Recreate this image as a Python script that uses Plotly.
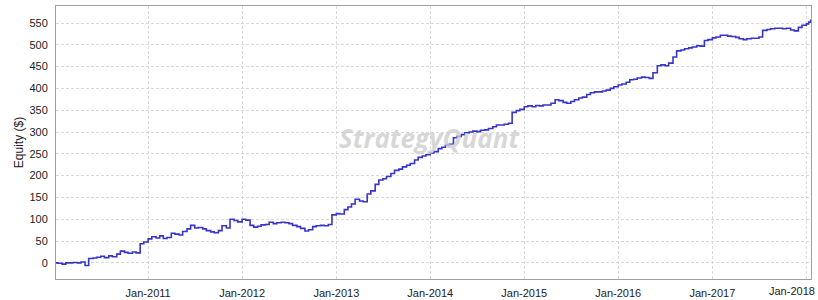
import plotly.graph_objects as go

dates = [
    "2010-01-08", "2010-01-15", "2010-02-01", "2010-02-15", "2010-03-01", "2010-03-15", "2010-04-01", "2010-04-15",
    "2010-05-01", "2010-05-15", "2010-06-01", "2010-06-15", "2010-07-01", "2010-07-15", "2010-08-01", "2010-08-15",
    "2010-09-01", "2010-09-15", "2010-10-01", "2010-10-15", "2010-11-01", "2010-11-15", "2010-12-01", "2010-12-15",
    "2011-01-01", "2011-01-15", "2011-02-01", "2011-02-15", "2011-03-01", "2011-03-15", "2011-04-01", "2011-04-15",
    "2011-05-01", "2011-05-15", "2011-06-01", "2011-06-15", "2011-07-01", "2011-07-15", "2011-08-01", "2011-08-15",
    "2011-09-01", "2011-09-15", "2011-10-01", "2011-10-15", "2011-11-01", "2011-11-15", "2011-12-01", "2011-12-15",
    "2012-01-01", "2012-01-15", "2012-02-01", "2012-02-15", "2012-03-01", "2012-03-15", "2012-04-01", "2012-04-15",
    "2012-05-01", "2012-05-15", "2012-06-01", "2012-06-15", "2012-07-01", "2012-07-15", "2012-08-01", "2012-08-15",
    "2012-09-01", "2012-09-15", "2012-10-01", "2012-10-15", "2012-11-01", "2012-11-15", "2012-12-01", "2012-12-15",
    "2013-01-01", "2013-01-15", "2013-02-01", "2013-02-15", "2013-03-01", "2013-03-15", "2013-04-01", "2013-04-15",
    "2013-05-01", "2013-05-15", "2013-06-01", "2013-06-15", "2013-07-01", "2013-07-15", "2013-08-01", "2013-08-15",
    "2013-09-01", "2013-09-15", "2013-10-01", "2013-10-15", "2013-11-01", "2013-11-15", "2013-12-01", "2013-12-15",
    "2014-01-01", "2014-01-15", "2014-02-01", "2014-02-15", "2014-03-01", "2014-03-15", "2014-04-01", "2014-04-15",
    "2014-05-01", "2014-05-15", "2014-06-01", "2014-06-15", "2014-07-01", "2014-07-15", "2014-08-01", "2014-08-15",
    "2014-09-01", "2014-09-15", "2014-10-01", "2014-10-15", "2014-11-01", "2014-11-15", "2014-12-01", "2014-12-15",
    "2015-01-01", "2015-01-15", "2015-02-01", "2015-02-15", "2015-03-01", "2015-03-15", "2015-04-01", "2015-04-15",
    "2015-05-01", "2015-05-15", "2015-06-01", "2015-06-15", "2015-07-01", "2015-07-15", "2015-08-01", "2015-08-15",
    "2015-09-01", "2015-09-15", "2015-10-01", "2015-10-15", "2015-11-01", "2015-11-15", "2015-12-01", "2015-12-15",
    "2016-01-01", "2016-01-15", "2016-02-01", "2016-02-15", "2016-03-01", "2016-03-15", "2016-04-01", "2016-04-15",
    "2016-05-01", "2016-05-15", "2016-06-01", "2016-06-15", "2016-07-01", "2016-07-15", "2016-08-01", "2016-08-15",
    "2016-09-01", "2016-09-15", "2016-10-01", "2016-10-15", "2016-11-01", "2016-11-15", "2016-12-01", "2016-12-15",
    "2017-01-01", "2017-01-15", "2017-02-01", "2017-02-15", "2017-03-01", "2017-03-15", "2017-04-01", "2017-04-15",
    "2017-05-01", "2017-05-15", "2017-06-01", "2017-06-15", "2017-07-01", "2017-07-15", "2017-08-01", "2017-08-15",
    "2017-09-01", "2017-09-15", "2017-10-01", "2017-10-15", "2017-11-01", "2017-11-15", "2017-12-01", "2017-12-15",
    "2018-01-01", "2018-01-10", "2018-01-18",
]

equity = [
    0, -1, -3, 0, 0, 1, 0, 2, -6, 10, 11, 13, 15, 12, 16, 14, 20, 27, 24, 22, 25, 23, 44, 48,
    55, 60, 57, 62, 56, 58, 68, 66, 64, 72, 78, 86, 80, 81, 78, 74, 71, 69, 74, 85, 80, 100, 97, 94,
    100, 98, 86, 82, 84, 87, 88, 93, 90, 92, 93, 92, 90, 86, 83, 79, 73, 76, 83, 85, 86, 85, 88, 110,
    113, 112, 122, 128, 135, 146, 142, 140, 158, 165, 180, 190, 193, 198, 205, 212, 215, 220, 224, 228, 236, 242, 245, 248,
    252, 255, 262, 265, 270, 272, 287, 290, 294, 298, 300, 302, 301, 304, 305, 308, 312, 316, 316, 318, 320, 345, 349, 352,
    358, 360, 358, 361, 360, 362, 362, 366, 374, 372, 368, 366, 370, 374, 378, 380, 386, 390, 392, 392, 394, 396, 400, 404,
    408, 410, 414, 420, 421, 424, 426, 425, 423, 436, 452, 454, 452, 458, 472, 486, 488, 491, 493, 495, 498, 497, 510, 512,
    516, 518, 522, 522, 520, 519, 517, 514, 512, 514, 515, 515, 518, 533, 535, 537, 538, 538, 537, 538, 534, 532, 540, 545,
    548, 552, 558,
]

y_ticks = [0, 50, 100, 150, 200, 250, 300, 350, 400, 450, 500, 550]
x_ticks = ["2011-01-01", "2012-01-01", "2013-01-01", "2014-01-01", "2015-01-01",
           "2016-01-01", "2017-01-01", "2018-01-01"]
x_labels = ["Jan-2011", "Jan-2012", "Jan-2013", "Jan-2014", "Jan-2015",
            "Jan-2016", "Jan-2017", "Jan-2018"]

fig = go.Figure()
fig.add_trace(go.Scatter(
    x=dates, y=equity, mode="lines",
    line=dict(color="#3535c8", width=1.6, shape="hv"),
    showlegend=False, hoverinfo="skip",
))

fig.add_annotation(
    x=0.495, y=0.515, xref="paper", yref="paper",
    text="<b><i>StrategyQuant</i></b>",
    showarrow=False,
    font=dict(family="Open Sans, Liberation Sans, sans-serif", size=26, color="rgba(205,205,205,0.8)"),
)

# last tick label, kept inside the page at its right edge
fig.add_annotation(
    x=1.0, y=0, xref="paper", yref="paper", xanchor="right", yanchor="top",
    text=x_labels[-1], showarrow=False, yshift=-4, xshift=6,
    font=dict(family="Liberation Sans, Arial, sans-serif", size=11, color="#222"),
)

grid = "#d9d9d9"
fig.update_layout(
    width=818, height=300,
    margin=dict(l=56, r=7, t=6, b=21, autoexpand=False),
    paper_bgcolor="white", plot_bgcolor="white",
    font=dict(family="Liberation Sans, Arial, sans-serif", size=11, color="#222"),
    xaxis=dict(
        range=["2010-01-08", "2018-01-19"],
        tickvals=x_ticks[:-1], ticktext=x_labels[:-1],
        showgrid=True, gridcolor=grid, griddash="3px,2px", gridwidth=1,
        showline=True, linecolor="#a0a0a0", linewidth=1, mirror=True,
        ticks="outside", ticklen=4, tickcolor="rgba(0,0,0,0)",
        zeroline=False, automargin=False,
    ),
    yaxis=dict(
        range=[-37, 589],
        tickvals=y_ticks,
        showgrid=True, gridcolor=grid, griddash="3px,2px", gridwidth=1,
        showline=True, linecolor="#a0a0a0", linewidth=1, mirror=True,
        ticks="outside", ticklen=5, tickcolor="rgba(0,0,0,0)",
        zeroline=False, automargin=False,
        title=dict(text="Equity ($)", font=dict(size=12), standoff=3),
    ),
)

# vertical grid line for the last tick (its label is an annotation)
fig.add_shape(
    type="line", xref="x", yref="paper", x0=x_ticks[-1], x1=x_ticks[-1], y0=0, y1=1,
    line=dict(color=grid, width=1, dash="3px,2px"), layer="below",
)

fig.write_html("out.html")
